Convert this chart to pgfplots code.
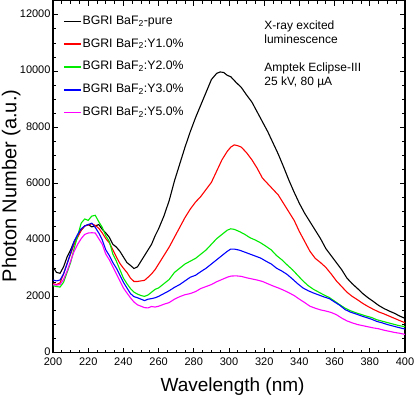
\documentclass[border=0pt]{standalone}
\usepackage{pgfplots}
\pgfplotsset{compat=1.18}
\usepackage{fontspec}
\setmainfont{Liberation Sans}

\definecolor{cgreen}{RGB}{0,235,0}
\definecolor{cmag}{RGB}{255,0,255}

\begin{document}
\begin{tikzpicture}
\begin{axis}[
  scale only axis,
  width=352pt, height=352pt,
  xmin=200, xmax=400,
  ymin=0, ymax=12500,
  xtick={200,220,...,400},
  ytick={0,2000,...,12000},
  scaled y ticks=false,
  minor x tick num=3,
  minor y tick num=3,
  tick align=inside,
  major tick length=5pt,
  minor tick length=3pt,
  axis line style={line width=1.1pt},
  every tick/.style={line width=0.8pt, black},
  /pgf/number format/assume math mode=true,
  /pgf/number format/set thousands separator={},
  tick label style={font=\fontsize{11}{13}\selectfont},
  xticklabel style={yshift=-1.5pt},
  yticklabel style={xshift=1pt, yshift=1pt},
  xlabel={Wavelength (nm)},
  ylabel={Photon Number (a.u.)},
  xlabel style={font=\fontsize{19}{22}\selectfont, at={(axis description cs:0.51,-0.111)}, anchor=base, inner sep=0pt},
  ylabel style={font=\fontsize{20}{23}\selectfont, at={(axis description cs:-0.119,0.474)}, anchor=center, inner sep=0pt},
  legend cell align=left,
  legend style={at={(axis description cs:0.02,0.968)}, anchor=north west, draw=none, fill=none,
    font=\fontsize{12.3}{14}\selectfont, row sep=8.9pt,
    nodes={inner sep=1pt, text height=9pt, text depth=3pt}},
  legend image code/.code={\draw[line width=1.3pt] (0pt,0pt) -- (17pt,0pt);},
  clip=false,
]
\addplot[black, line width=1.1pt] coordinates {
(200,3040)(202,2850)(204,2820)(206,3050)(208,3400)(210,3650)(212,3950)(214,4150)(216,4350)(218,4500)
(220,4550)(222,4470)(224,4500)(226,4550)(228,4380)(230,4250)(232,4100)(234,3850)(236,3750)(238,3600)
(240,3400)(242,3200)(244,3100)(246,2990)(248,3050)(250,3250)(252,3450)(254,3650)(256,3850)(258,4150)
(260,4400)(263,4850)(266,5400)(269,6100)(272,6700)(275,7300)(278,7850)(281,8350)(284,8800)(287,9250)
(290,9700)(293,9920)(295,9970)(297,9950)(299,9850)(301,9800)(304,9600)(307,9420)(310,9150)(313,8900)
(316,8550)(319,8200)(322,7850)(325,7450)(328,7050)(331,6600)(334,6130)(337,5700)(340,5300)(343,4950)
(346,4650)(349,4350)(352,4050)(355,3700)(358,3450)(361,3200)(364,2950)(367,2650)(370,2450)(373,2280)
(376,2100)(379,1950)(382,1820)(385,1680)(388,1570)(391,1480)(394,1400)(397,1300)(400,1220)
};
\addlegendentry{BGRI BaF\textsubscript{2}-pure}
\addplot[red, line width=1.1pt] coordinates {
(200,2450)(202,2420)(204,2480)(206,2800)(208,3170)(210,3500)(212,3850)(214,4100)(216,4350)(218,4500)
(220,4530)(222,4580)(224,4520)(226,4420)(228,4250)(230,4050)(232,3900)(234,3650)(236,3400)(238,3170)
(240,3000)(242,2850)(244,2650)(246,2530)(248,2530)(250,2550)(252,2570)(254,2680)(256,2800)(258,2950)
(260,3150)(263,3450)(266,3750)(269,4100)(272,4450)(275,4800)(278,5100)(281,5350)(284,5550)(287,5800)
(290,6050)(293,6450)(296,6850)(299,7150)(301,7300)(303,7380)(305,7350)(307,7300)(310,7100)(313,6850)
(316,6550)(319,6200)(322,6000)(325,5800)(328,5600)(331,5300)(334,5000)(337,4700)(340,4300)(343,3950)
(346,3600)(349,3350)(352,3200)(355,3030)(358,2800)(361,2550)(364,2350)(367,2150)(370,2000)(373,1880)
(376,1750)(379,1640)(382,1540)(385,1450)(388,1380)(391,1300)(394,1220)(397,1140)(400,1065)
};
\addlegendentry{BGRI BaF\textsubscript{2}:Y1.0\%}
\addplot[cgreen, line width=1.1pt] coordinates {
(200,2380)(202,2350)(204,2330)(206,2500)(208,2850)(210,3200)(212,3700)(214,4150)(216,4600)(218,4750)
(220,4700)(222,4850)(224,4880)(226,4650)(228,4450)(230,4150)(232,3950)(234,3500)(236,3250)(238,2950)
(240,2650)(242,2450)(244,2280)(246,2150)(248,2080)(250,2030)(252,2000)(254,2050)(256,2150)(258,2250)
(260,2300)(263,2450)(266,2600)(269,2850)(272,3000)(275,3150)(278,3250)(281,3350)(284,3500)(287,3650)
(290,3850)(293,4050)(296,4200)(299,4350)(301,4400)(303,4380)(306,4300)(309,4200)(312,4080)(315,4000)
(318,3900)(321,3780)(324,3650)(327,3450)(330,3300)(333,3120)(336,2950)(339,2750)(342,2550)(345,2380)
(348,2250)(351,2150)(354,2050)(357,1960)(360,1830)(363,1700)(366,1580)(369,1490)(372,1420)(375,1360)
(378,1300)(381,1250)(384,1170)(387,1120)(390,1070)(393,1020)(396,970)(400,920)
};
\addlegendentry{BGRI BaF\textsubscript{2}:Y2.0\%}
\addplot[blue, line width=1.1pt] coordinates {
(200,2580)(202,2550)(204,2580)(206,2800)(208,3150)(210,3550)(212,3950)(214,4200)(216,4400)(218,4500)
(220,4550)(222,4600)(224,4450)(226,4250)(228,4000)(230,3650)(232,3450)(234,3200)(236,3000)(238,2750)
(240,2500)(242,2300)(244,2100)(246,1990)(248,1950)(250,1900)(252,1850)(254,1900)(256,1920)(258,1950)
(260,2000)(263,2100)(266,2200)(269,2320)(272,2420)(275,2550)(278,2680)(281,2750)(284,2880)(287,3000)
(290,3150)(293,3300)(296,3450)(299,3600)(301,3680)(303,3680)(306,3640)(309,3570)(312,3500)(315,3430)
(318,3360)(321,3250)(324,3150)(327,3000)(330,2900)(333,2780)(336,2620)(339,2450)(342,2300)(345,2200)
(348,2120)(351,2050)(354,1980)(357,1920)(360,1800)(363,1680)(366,1530)(369,1440)(372,1380)(375,1310)
(378,1250)(381,1190)(384,1110)(387,1060)(390,1000)(393,950)(396,900)(400,840)
};
\addlegendentry{BGRI BaF\textsubscript{2}:Y3.0\%}
\addplot[cmag, line width=1.1pt] coordinates {
(200,2420)(202,2400)(204,2420)(206,2600)(208,2900)(210,3250)(212,3600)(214,3850)(216,4050)(218,4200)
(220,4250)(222,4260)(224,4250)(226,4050)(228,3850)(230,3500)(232,3300)(234,3050)(236,2800)(238,2550)
(240,2300)(242,2120)(244,1950)(246,1800)(248,1700)(250,1650)(252,1600)(254,1590)(256,1640)(258,1620)
(260,1650)(263,1720)(266,1780)(269,1900)(272,1990)(275,2060)(278,2100)(281,2170)(284,2280)(287,2350)
(290,2420)(293,2520)(296,2600)(299,2680)(301,2720)(304,2730)(307,2710)(310,2660)(313,2620)(316,2580)
(319,2530)(322,2450)(325,2370)(328,2300)(331,2220)(334,2130)(337,2030)(340,1900)(343,1780)(346,1650)
(349,1580)(352,1520)(355,1480)(358,1430)(361,1350)(364,1230)(367,1130)(370,1060)(373,1000)(376,960)
(379,920)(382,880)(385,850)(388,800)(391,760)(394,720)(397,690)(400,650)
};
\addlegendentry{BGRI BaF\textsubscript{2}:Y5.0\%}
% annotation text, upper right (base anchor sits on the last line)
\node[anchor=base west, align=left, inner sep=0pt, font=\fontsize{12}{14.3}\selectfont]
  at (axis cs:320,10984) {X-ray excited\\luminescence};
\node[anchor=base west, align=left, inner sep=0pt, font=\fontsize{12}{13.5}\selectfont]
  at (axis cs:320,9503) {Amptek Eclipse-III\\25 kV, 80 µA};
% page frame, matched to the reference size
\coordinate (bl) at (axis description cs:-0.1506,-0.1230);
\coordinate (tr) at (axis description cs:1.0284,1.0020);
\end{axis}
\pgfresetboundingbox
\path[use as bounding box] (bl) rectangle (tr);
\end{tikzpicture}
\end{document}
